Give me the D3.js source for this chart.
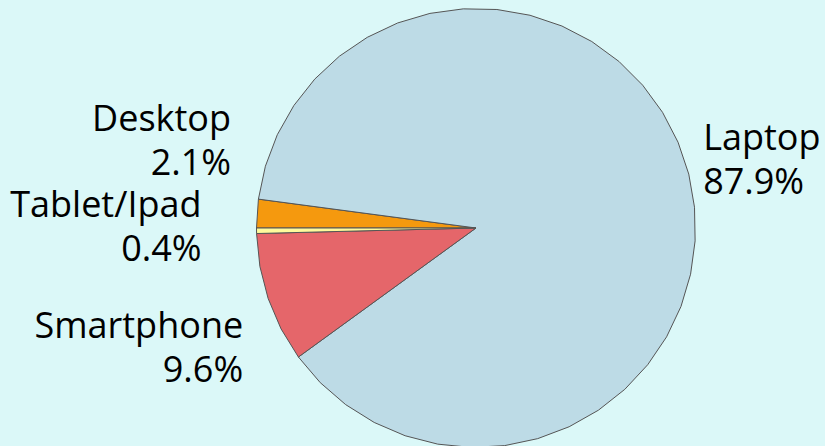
<!DOCTYPE html>
<html>
<head>
<meta charset="utf-8">
<script src="https://cdn.jsdelivr.net/npm/d3@7"></script>
<style>
  html, body { margin: 0; padding: 0; background: #dbf8f8; }
  svg { display: block; }
  .lbl { font-family: "Open Sans", "Noto Sans", sans-serif; font-size: 36px; fill: #000; }
</style>
</head>
<body>
<svg id="chart" width="825" height="446"></svg>
<script>
// slice data (clockwise from 9 o'clock)
var categories = ["Desktop", "Laptop", "Smartphone", "Tablet/Ipad"];
var shares = [2.1, 87.9, 9.6, 0.4];
var shareLabels = ["2.1%", "87.9%", "9.6%", "0.4%"];
var sliceColors = ["#f5990e", "#bddbe6", "#e5666a", "#fffa9c"];

var width = 825, height = 446;
var cx = 476, cy = 228, radius = 219.5;
var segStep = Math.PI / 20;   // pie is drawn as polygons, ~9deg per edge
var lineGap = 44;

// hand tweaks so labels don't collide (dx, dy from the default spot)
var labelNudge = {
	"Desktop": [-6, -71],
	"Laptop": [-5, -9],
	"Smartphone": [-6, 43],
	"Tablet/Ipad": [-35, -4]
};

var svg = d3.select("#chart");
svg.append("rect").attr("width", width).attr("height", height).attr("fill", "#dbf8f8");

var rows = categories.map(function(c, i){
	return { name: c, value: shares[i], text: shareLabels[i], color: sliceColors[i] };
});

var pie = d3.pie()
	.sort(null)
	.value(function(d){ return d.value; })
	.startAngle(-Math.PI / 2)
	.endAngle(3 * Math.PI / 2);

var slices = pie(rows);

var radial = d3.lineRadial()
	.angle(function(p){ return p[0]; })
	.radius(function(p){ return p[1]; });

function slicePoints(s) {
	var span = s.endAngle - s.startAngle;
	var n = Math.max(1, Math.ceil(span / segStep - 1e-6));
	var pts = [[s.startAngle, 0]];
	for (var k=0; k<=n; k++) {
		pts.push([s.startAngle + span * k / n, radius]);
	}
	return pts;
}

var g = svg.append("g").attr("transform", "translate(" + cx + "," + cy + ")");

g.selectAll("path.slice").data(slices)
	.enter().append("path")
		.attr("class", "slice")
		.attr("d", function(d){ return radial(slicePoints(d)) + "Z"; })
		.attr("fill", function(d){ return d.data.color; })
		.attr("stroke", "#555")
		.attr("stroke-width", 1)
		.attr("stroke-linejoin", "round");

// labels outside, two lines each
var labelR = radius + 20;
var lbls = g.selectAll("text.lbl").data(slices)
	.enter().append("text")
		.attr("class", "lbl")
		.attr("text-anchor", function(d){
			var mid = (d.startAngle + d.endAngle) / 2;
			return Math.sin(mid) < 0 ? "end" : "start";
		})
		.attr("transform", function(d){
			var mid = (d.startAngle + d.endAngle) / 2;
			var nudge = labelNudge[d.data.name] || [0, 0];
			var x = Math.sin(mid) * labelR + nudge[0];
			var y = -Math.cos(mid) * labelR + nudge[1];
			return "translate(" + x + "," + y + ")";
		});

lbls.append("tspan")
	.attr("x", 0)
	.attr("y", -10)
	.text(function(d){ return d.data.name; });

lbls.append("tspan")
	.attr("x", 0)
	.attr("y", -10 + lineGap)
	.text(function(d){ return d.data.text; });
</script>
</body>
</html>
